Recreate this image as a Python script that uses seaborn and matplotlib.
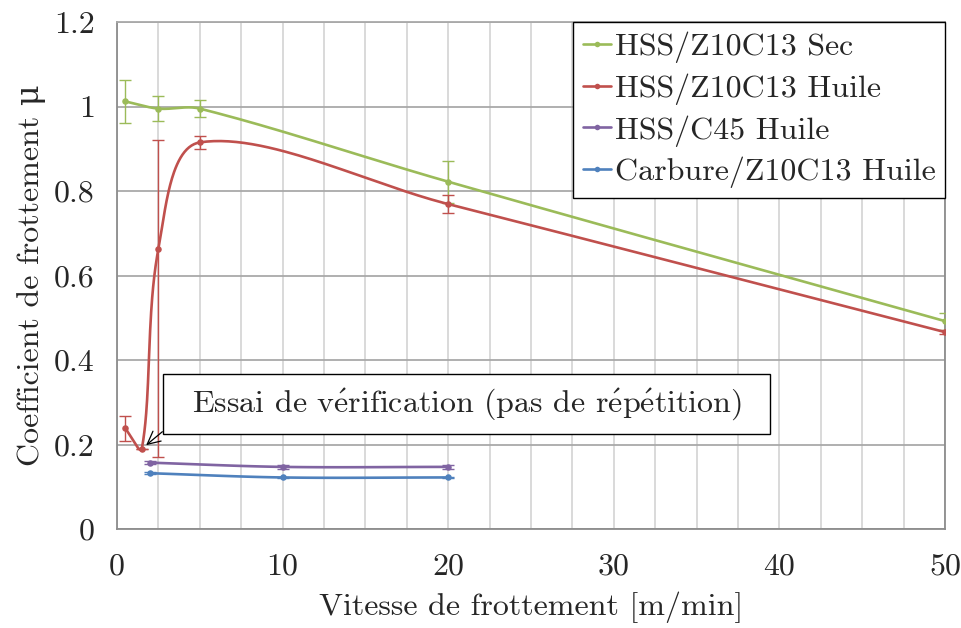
import numpy as np
import pandas as pd
import matplotlib
matplotlib.use("Agg")
import matplotlib.pyplot as plt
from matplotlib.lines import Line2D
from matplotlib.ticker import MultipleLocator
import seaborn as sns

# Measured friction coefficients versus sliding speed
v_sec = [0.5, 2.5, 5, 20, 50]
mu_sec = [1.012, 0.995, 0.995, 0.822, 0.492]
err_sec = [0.05, 0.03, 0.02, 0.05, 0.02]

v_huile = [0.5, 1.5, 2.5, 5, 20, 50]
mu_huile = [0.238, 0.19, 0.663, 0.915, 0.769, 0.466]
err_huile_bas = [0.03, 0.0, 0.493, 0.015, 0.021, 0.005]
err_huile_haut = [0.03, 0.0, 0.257, 0.015, 0.021, 0.005]

v_c45 = [2, 10, 20]
mu_c45 = [0.157, 0.147, 0.147]
err_c45 = [0.004, 0.004, 0.005]

v_carb = [2, 10, 20]
mu_carb = [0.132, 0.122, 0.122]
err_carb = [0.002, 0.002, 0.002]

series_names = ["HSS/Z10C13 Sec", "HSS/Z10C13 Huile", "HSS/C45 Huile", "Carbure/Z10C13 Huile"]
series_colors = ["#9BBB59", "#C0504D", "#8064A2", "#4F81BD"]

x_ticks = [0, 10, 20, 30, 40, 50]
x_tick_labels = ["0", "10", "20", "30", "40", "50"]
y_ticks = [0, 0.2, 0.4, 0.6, 0.8, 1.0, 1.2]
y_tick_labels = ["0", "0.2", "0.4", "0.6", "0.8", "1", "1.2"]

# accented letters set through mathtext so they stay in Computer Modern
annotation_text = r"Essai de v$\acute{\mathrm{e}}$rification (pas de r$\acute{\mathrm{e}}$p$\acute{\mathrm{e}}$tition)"
x_label = "Vitesse de frottement [m/min]"
y_label = "Coefficient de frottement μ"

sns.set_theme(style="white")
plt.rcParams["font.family"] = ["cmr10", "DejaVu Serif"]
plt.rcParams["mathtext.fontset"] = "cm"
plt.rcParams["axes.formatter.use_mathtext"] = True
plt.rcParams["axes.unicode_minus"] = False
FS = 23

fig = plt.figure(figsize=(9.62, 6.28), dpi=100)
ax = fig.add_axes([117 / 962, 1 - 529 / 628, (945 - 117) / 962, (529 - 22) / 628])
ax.set_xlim(0, 50)
ax.set_ylim(0, 1.2)


def smooth_path(ax, x, y, n=60):
    """Smoothed Bezier path through the points, computed in screen space."""
    pts = ax.transData.transform(np.column_stack([x, y]))
    out = [pts[0]]
    m = len(pts)
    t = np.linspace(0, 1, n)[1:, None]
    for i in range(m - 1):
        p0 = pts[i - 1] if i > 0 else pts[i]
        p1, p2 = pts[i], pts[i + 1]
        p3 = pts[i + 2] if i + 2 < m else pts[i + 1]
        d01 = np.linalg.norm(p1 - p0)
        d12 = np.linalg.norm(p2 - p1)
        d23 = np.linalg.norm(p3 - p2)
        c1 = p1 + (p2 - p0) * (d12 / (d01 + d12)) / 3
        c2 = p2 - (p3 - p1) * (d12 / (d12 + d23)) / 3
        seg = ((1 - t) ** 3) * p1 + 3 * ((1 - t) ** 2) * t * c1 + 3 * (1 - t) * t ** 2 * c2 + t ** 3 * p2
        out.extend(seg)
    data = ax.transData.inverted().transform(np.array(out))
    return data[:, 0], data[:, 1]


all_series = [
    (v_sec, mu_sec, (err_sec, err_sec)),
    (v_huile, mu_huile, (err_huile_bas, err_huile_haut)),
    (v_c45, mu_c45, (err_c45, err_c45)),
    (v_carb, mu_carb, (err_carb, err_carb)),
]

for (vx, vy, verr), name, col in zip(all_series, series_names, series_colors):
    sx, sy = smooth_path(ax, vx, vy)
    curve = pd.DataFrame({"v": sx, "mu": sy})
    sns.lineplot(data=curve, x="v", y="mu", sort=False, estimator=None,
                 color=col, linewidth=1.9, ax=ax, zorder=3)
    ax.errorbar(vx, vy, yerr=[verr[0], verr[1]], fmt="none", ecolor=col,
                elinewidth=1.0, capsize=4, capthick=1.0, zorder=3)
    pts = pd.DataFrame({"v": vx, "mu": vy})
    sns.scatterplot(data=pts, x="v", y="mu", color=col, s=22, linewidth=0,
                    ax=ax, zorder=4)

# grid and axes styling
ax.xaxis.set_minor_locator(MultipleLocator(2.5))
ax.set_xticks(x_ticks)
ax.set_xticklabels(x_tick_labels)
ax.set_yticks(y_ticks)
ax.set_yticklabels(y_tick_labels)
ax.grid(True, which="major", axis="y", color="#a9a9a9", linewidth=1.3)
ax.grid(True, which="both", axis="x", color="#cfcfcf", linewidth=1.1)
ax.set_axisbelow(True)
for side in ["left", "bottom", "right"]:
    ax.spines[side].set_color("#8c8c8c")
    ax.spines[side].set_linewidth(1.3)
ax.spines["top"].set_color("#a9a9a9")
ax.spines["top"].set_linewidth(1.3)
ax.tick_params(axis="both", which="major", direction="out", length=7,
               width=1.1, color="#8c8c8c", labelsize=FS, pad=9)
ax.tick_params(axis="x", which="minor", length=0)
ax.tick_params(axis="x", which="major", pad=10)
ax.set_xlabel(x_label, fontsize=FS, labelpad=8)
ax.set_ylabel(y_label, fontsize=FS, labelpad=6)

# legend
handles = [Line2D([0], [0], color=c, linewidth=1.9, marker="o", markersize=4,
                  markeredgewidth=0) for c in series_colors]
leg = ax.legend(handles, series_names, loc="upper right", fontsize=FS,
                frameon=True, fancybox=False, borderaxespad=0,
                handlelength=0.9, handletextpad=0.1, borderpad=0.3,
                labelspacing=0.32)
leg.get_frame().set_edgecolor("black")
leg.get_frame().set_linewidth(1.0)
leg.get_frame().set_alpha(1)

# annotation for the single verification test
ax.annotate(annotation_text, xy=(v_huile[1], mu_huile[1]), xytext=(21.1, 0.296),
            fontsize=FS, ha="center", va="center", zorder=6,
            bbox=dict(boxstyle="square,pad=0.9", fc="white", ec="black",
                      lw=1.0, mutation_aspect=0.43),
            arrowprops=dict(arrowstyle="->", color="black", lw=0.9,
                            shrinkA=0, shrinkB=4, relpos=(0, 0.4)))

fig.savefig("out.png", dpi=100)
